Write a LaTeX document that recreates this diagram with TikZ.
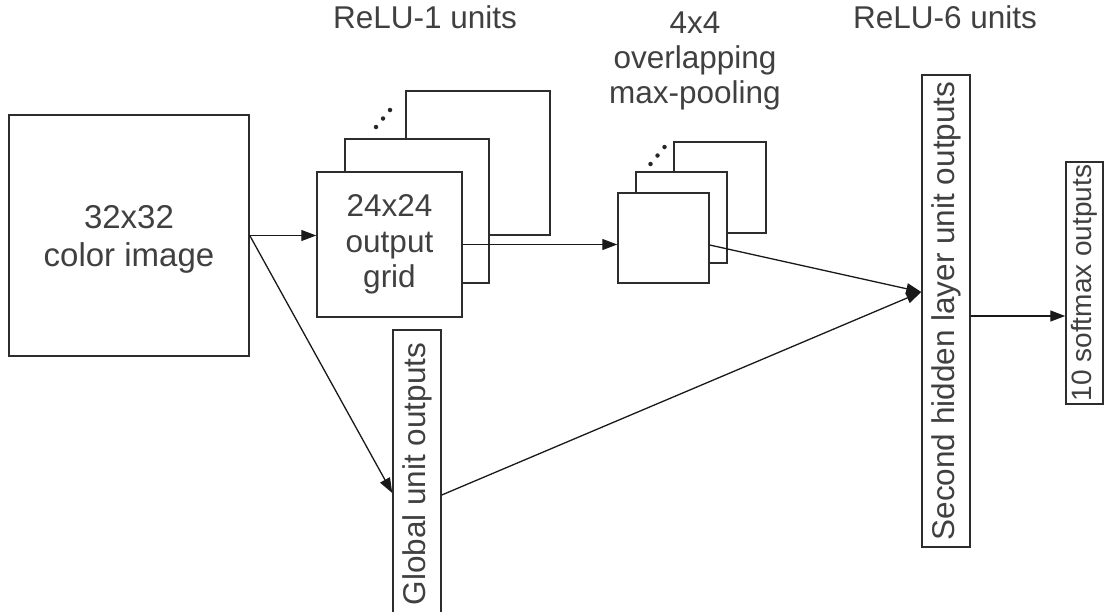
\documentclass[tikz,border=0pt]{standalone}
\usepackage{fontspec}
\setmainfont{Liberation Sans}
\usetikzlibrary{arrows.meta,calc}
\definecolor{txt}{RGB}{64,64,64}
\definecolor{edge}{RGB}{45,45,45}
\begin{document}
\begin{tikzpicture}[x=1pt,y=-1pt,
 box/.style={draw=edge, line width=1.5pt, fill=white, inner sep=0pt, text=txt, align=center, font=\fontsize{31.5}{35.5}\selectfont},
 lbl/.style={text=txt, inner sep=0pt, align=center, font=\fontsize{31.5}{35}\selectfont},
 conn/.style={draw=black!90, line width=1.3pt, -{Triangle[length=15pt,width=11pt]}},
 dotmark/.style={circle, fill=black!85, inner sep=0pt, minimum size=4.5pt}]
\useasboundingbox (0,0) rectangle (1104,611);
\clip (0,0) rectangle (1104,611);
% input image
\node[box, minimum width=240pt, minimum height=241pt] (img) at (129,235.5) {};
\node[lbl, font=\fontsize{33}{38}\selectfont, anchor=base] (imgtxt) at (129,266) {32x32\\color image};
% convolution grids
\node[box, minimum width=144pt, minimum height=144pt] (gridC) at (478,163) {};
\node[box, minimum width=144pt, minimum height=144pt] (gridB) at (417,211) {};
\node[box, minimum width=145pt, minimum height=145pt] (gridA) at (389.5,244.5) {24x24\\output\\grid};
\node[dotmark] (gd1) at (376,127) {};
\node[dotmark] (gd2) at (383,118.5) {};
\node[dotmark] (gd3) at (390,110) {};
% pooling
\node[box, minimum width=92pt, minimum height=91pt] (poolC) at (720,187.5) {};
\node[box, minimum width=91pt, minimum height=91pt] (poolB) at (681.5,217.5) {};
\node[box, minimum width=91pt, minimum height=90pt] (poolA) at (663.5,238) {};
\node[dotmark] (pd1) at (650.5,164) {};
\node[dotmark] (pd2) at (657.5,155.5) {};
\node[dotmark] (pd3) at (664.5,147) {};
% vertical boxes
\node[box, minimum width=48pt, minimum height=288pt] (glob) at (417,474) {\rotatebox{90}{Global unit outputs}};
\node[box, minimum width=48pt, minimum height=472pt] (hid) at (946,311) {\rotatebox{90}{Second hidden layer unit outputs}};
\node[box, minimum width=37pt, minimum height=242pt, font=\fontsize{28}{32}\selectfont] (soft) at (1084.5,283) {\rotatebox{90}{10 softmax outputs}};
% top labels
\node[lbl, anchor=base] (t1) at (425,28) {ReLU-1 units};
\node[lbl, anchor=base] (t2) at (695,103) {4x4\\overlapping\\max-pooling};
\node[lbl, anchor=base] (t3) at (945,28) {ReLU-6 units};
% connectors
\draw[conn] (img.east) -- (img.east -| gridA.west);
\draw[conn] (img.east) -- ([yshift=-19pt]glob.west);
\draw[conn] (gridA.east) -- (gridA.east -| poolA.west);
\draw[conn] ([yshift=-7pt]poolA.east) -- ([yshift=19pt]hid.west);
\draw[conn] ([yshift=-21pt]glob.east) -- ([yshift=19pt]hid.west);
\draw[conn] ([yshift=-5pt]hid.east) -- ([yshift=-5pt]hid.east -| soft.west);
\end{tikzpicture}
\end{document}
